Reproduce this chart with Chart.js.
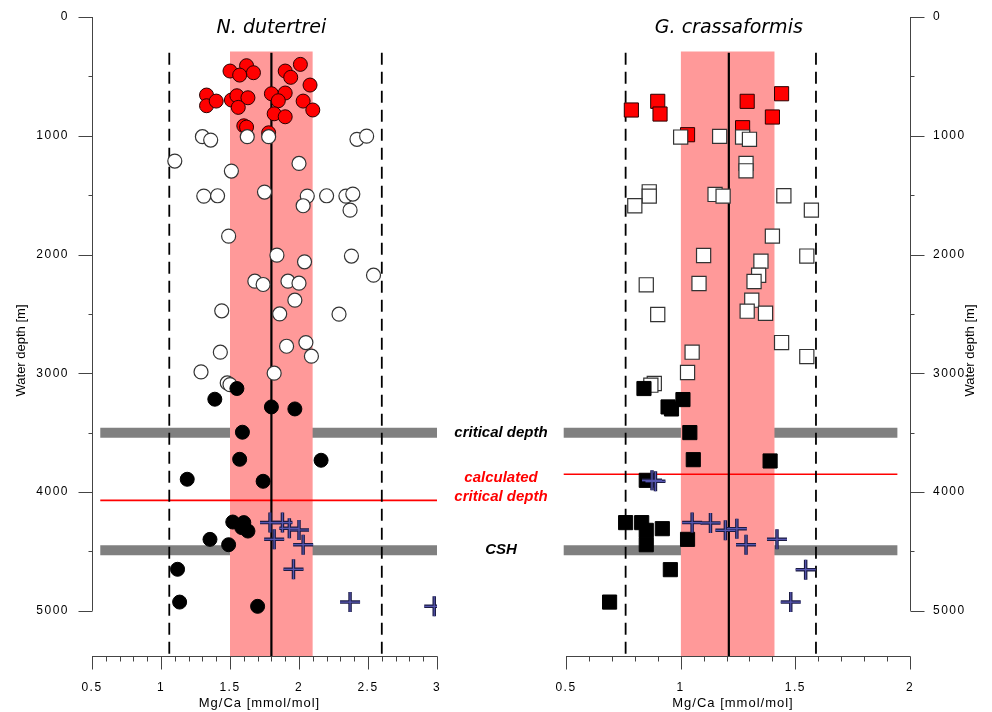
<!DOCTYPE html>
<html>
<head>
<meta charset="utf-8">
<title>Mg/Ca vs water depth</title>
<script src="https://cdn.jsdelivr.net/npm/chart.js@4.4.1/dist/chart.umd.min.js"></script>
<style>
  html, body { margin: 0; padding: 0; background: #fff; }
  #wrap { position: relative; width: 992px; height: 712px; overflow: hidden; }
  canvas { position: absolute; top: 0; }
  #dut { left: 0; }
  #cra { left: 540px; }
</style>
</head>
<body>
<div id="wrap">
  <canvas id="dut" width="560" height="712"></canvas>
  <canvas id="cra" width="452" height="712"></canvas>
</div>
<script>
// N. dutertrei - shallow (red), intermediate (white), deep (black) samples, crosses = core tops
const dutRedMgCa  = [1.50, 1.62, 1.57, 1.67, 1.90, 1.94, 2.01, 2.08, 1.33, 1.33, 1.40, 1.51, 1.55, 1.63, 1.56, 1.80, 1.90, 1.85, 2.03, 2.10, 1.82, 1.90, 1.60, 1.62, 1.78];
const dutRedDepth = [455, 410, 489, 469, 455, 508, 399, 573, 657, 747, 708, 699, 663, 680, 761, 646, 640, 705, 708, 783, 815, 840, 916, 927, 975];
const dutWhiteMgCa  = [1.30, 1.36, 1.625, 1.78, 2.42, 2.49, 1.10, 1.51, 2.00, 1.31, 1.41, 1.75, 2.06, 2.03, 2.20, 2.34, 2.39, 2.37, 1.49, 1.84, 2.04, 2.38, 2.54, 1.68, 1.74, 1.92, 2.00, 1.97, 1.44, 1.86, 2.29, 1.91, 2.05, 2.09, 1.43, 1.29, 1.82, 1.48, 1.50];
const dutWhiteDepth = [1008, 1036, 1008, 1008, 1030, 1003, 1213, 1297, 1233, 1508, 1505, 1474, 1508, 1589, 1505, 1508, 1491, 1626, 1845, 2005, 2061, 2013, 2174, 2224, 2252, 2224, 2241, 2384, 2474, 2500, 2502, 2772, 2741, 2856, 2822, 2988, 2999, 3081, 3095];
const dutBlackMgCa  = [1.55, 1.39, 1.80, 1.97, 1.59, 1.57, 2.16, 1.19, 1.74, 1.52, 1.60, 1.585, 1.63, 1.355, 1.49, 1.12, 1.135, 1.70];
const dutBlackDepth = [3128, 3218, 3283, 3300, 3496, 3724, 3732, 3892, 3909, 4252, 4257, 4299, 4328, 4398, 4443, 4650, 4926, 4962];
const dutCrossMgCa  = [1.79, 1.88, 1.93, 2.00, 1.82, 2.03, 1.96, 2.37, 2.98];
const dutCrossDepth = [4257, 4257, 4305, 4319, 4398, 4443, 4650, 4926, 4962];

// G. crassaformis
const craRedMgCa  = [0.785, 0.90, 0.91, 1.03, 1.29, 1.44, 1.40, 1.27];
const craRedDepth = [783, 710, 817, 991, 710, 646, 842, 932];
const craWhiteMgCa  = [1.00, 1.17, 1.27, 1.30, 1.285, 1.285, 0.863, 0.863, 0.80, 1.15, 1.185, 1.45, 1.57, 1.40, 1.10, 1.55, 1.35, 1.34, 1.32, 0.85, 1.08, 1.31, 1.29, 1.37, 0.90, 1.44, 1.55, 1.05, 1.03, 0.885, 0.87];
const craWhiteDepth = [1011, 1005, 1011, 1030, 1233, 1295, 1472, 1508, 1589, 1494, 1508, 1505, 1626, 1845, 2008, 2013, 2056, 2174, 2227, 2255, 2244, 2384, 2477, 2494, 2505, 2741, 2859, 2822, 2993, 3086, 3100];
const craBlackMgCa  = [0.84, 1.01, 0.945, 0.96, 1.04, 1.055, 1.39, 0.85, 0.76, 0.83, 0.85, 0.92, 1.03, 0.85, 0.955, 0.69];
const craBlackDepth = [3128, 3221, 3283, 3300, 3499, 3727, 3738, 3901, 4257, 4257, 4322, 4308, 4398, 4443, 4653, 4926];
const craCrossMgCa  = [0.875, 0.89, 1.05, 1.13, 1.195, 1.245, 1.285, 1.42, 1.545, 1.48];
const craCrossDepth = [3901, 3909, 4257, 4260, 4322, 4308, 4443, 4398, 4653, 4926];

// reference values: mean, mean +/- range (pink band) and outer limits (dashed)
const dutMean = 1.8;
const dutBand = [1.5, 2.1];
const dutLimits = [1.06, 2.6];
const craMean = 1.21;
const craBand = [1.0, 1.41];
const craLimits = [0.76, 1.59];

// depths [m]
const criticalDepth = 3500;
const cshDepth = 4490;
const dutCalcCritical = 4070;
const craCalcCritical = 3850;
const bandTopDepth = 290;
const lineTopDepth = 300;
const depthMax = 5380;
const dutLevelSpan = [0.56, 3.0];
const craLevelSpan = [0.49, 1.945];

// ticks and tick labels
const depthTicks = [0, 500, 1000, 1500, 2000, 2500, 3000, 3500, 4000, 4500, 5000];
const depthLabels = [0, 1000, 2000, 3000, 4000, 5000];
const dutMgLabels = [0.5, 1, 1.5, 2, 2.5, 3];
const craMgLabels = [0.5, 1, 1.5, 2];

const pts = (xs, ys) => xs.map((v, i) => ({ x: v, y: ys[i] }));

function lineSet(xs, ys, style) {
  return Object.assign({
    type: 'line', data: pts(xs, ys), pointRadius: 0, fill: false,
    tension: 0, borderCapStyle: 'butt'
  }, style);
}

function panelDatasets(p) {
  const crosses = pts(p.crossX, p.crossY);
  return [
    // markers (lowest order is drawn on top)
    { data: crosses, pointStyle: 'cross', pointRadius: 10, pointBorderColor: '#5656b0', pointBorderWidth: 1.2, order: 0 },
    { data: crosses, pointStyle: 'cross', pointRadius: 10, pointBorderColor: '#1c1c44', pointBorderWidth: 3.5, order: 1 },
    { data: pts(p.blackX, p.blackY), pointStyle: p.shape, pointRadius: p.r, pointBackgroundColor: '#000', pointBorderColor: '#000', pointBorderWidth: 1, order: 2 },
    { data: pts(p.whiteX, p.whiteY), pointStyle: p.shape, pointRadius: p.r, pointBackgroundColor: '#fff', pointBorderColor: '#333', pointBorderWidth: 1.2, order: 3 },
    { data: pts(p.redX, p.redY), pointStyle: p.shape, pointRadius: p.r, pointBackgroundColor: '#ff0000', pointBorderColor: '#2a0000', pointBorderWidth: 1, order: 4 },
    // mean and limits
    lineSet([p.mean, p.mean], [lineTopDepth, depthMax], { borderColor: '#000', borderWidth: 2.2, order: 5 }),
    lineSet([p.limits[0], p.limits[0]], [lineTopDepth, depthMax], { borderColor: '#000', borderWidth: 1.8, borderDash: [12, 7], order: 6 }),
    lineSet([p.limits[1], p.limits[1]], [lineTopDepth, depthMax], { borderColor: '#000', borderWidth: 1.8, borderDash: [12, 7], order: 6 }),
    // calculated critical depth
    lineSet(p.span, [p.calc, p.calc], { borderColor: '#ff0000', borderWidth: 1.6, order: 7, clip: false }),
    // pink band filled down to the bottom of the depth scale
    lineSet(p.band, [bandTopDepth, bandTopDepth], {
      borderColor: 'rgba(0,0,0,0)', borderWidth: 0, backgroundColor: '#ff9999',
      fill: { value: depthMax }, order: 8
    }),
    // critical depth and CSH levels
    lineSet(p.span, [criticalDepth, criticalDepth], { borderColor: '#808080', borderWidth: 10, order: 9, clip: false }),
    lineSet(p.span, [cshDepth, cshDepth], { borderColor: '#808080', borderWidth: 10, order: 9, clip: false })
  ];
}

const isLabel = (list, v) => list.some(l => Math.abs(l - v) < 1e-6);

// axis lines with long (labelled) and short (minor) ticks
function axisPlugin(p) {
  return {
    id: 'axisLines',
    beforeDraw(chart) {
      chart.ctx.letterSpacing = '1.5px';
    },
    beforeDatasetsDraw(chart) {
      const { ctx, chartArea: a, scales: { x, y } } = chart;
      const ax = Math.round(p.side === 'left' ? a.left : a.right) + 0.5;
      const dir = p.side === 'left' ? -1 : 1;
      const by = Math.round(a.bottom) + 0.5;
      ctx.save();
      ctx.strokeStyle = '#444';
      ctx.lineWidth = 1;
      ctx.beginPath();
      ctx.moveTo(ax, y.getPixelForValue(depthLabels[0]));
      ctx.lineTo(ax, y.getPixelForValue(depthLabels[depthLabels.length - 1]));
      y.ticks.forEach(t => {
        const py = Math.round(y.getPixelForValue(t.value)) + 0.5;
        ctx.moveTo(ax, py);
        ctx.lineTo(ax + dir * (isLabel(depthLabels, t.value) ? 14 : 4), py);
      });
      ctx.moveTo(a.left, by);
      ctx.lineTo(a.right + 0.5, by);
      x.ticks.forEach(t => {
        const px = Math.round(x.getPixelForValue(t.value)) + 0.5;
        ctx.moveTo(px, by);
        ctx.lineTo(px, by + (isLabel(p.mgLabels, t.value) ? 13 : 5));
      });
      ctx.stroke();
      ctx.restore();
    }
  };
}

// species name, axis titles and the level annotations between the panels
function textPlugin(p) {
  return {
    id: 'panelText',
    afterDraw(chart) {
      const { ctx, chartArea: a, scales: { x, y } } = chart;
      ctx.save();
      ctx.textAlign = 'center';
      ctx.textBaseline = 'middle';
      ctx.fillStyle = '#000';

      ctx.letterSpacing = '0px';
      ctx.font = 'italic 19px "DejaVu Sans"';
      ctx.fillText(p.title, x.getPixelForValue(p.mean), a.top + 11);

      ctx.letterSpacing = '1px';
      ctx.font = '13px "Liberation Sans"';
      ctx.fillText('Mg/Ca [mmol/mol]', (a.left + a.right) / 2 - 5, a.bottom + 47);

      ctx.letterSpacing = '0px';
      ctx.save();
      ctx.font = '13px "Liberation Sans Narrow", "Liberation Sans"';
      ctx.translate(p.side === 'left' ? a.left - 71 : a.right + 60, (a.top + a.bottom) / 2 + 14);
      ctx.rotate(-Math.PI / 2);
      ctx.fillText('Water depth [m]', 0, 0);
      ctx.restore();

      if (p.side === 'left') {
        const cx = a.right + 64;
        ctx.font = 'bold italic 15px "Liberation Sans"';
        ctx.fillText('critical depth', cx, y.getPixelForValue(criticalDepth));
        ctx.fillText('CSH', cx, y.getPixelForValue(cshDepth));
        ctx.fillStyle = '#ff0000';
        const cy = y.getPixelForValue((dutCalcCritical + craCalcCritical) / 2);
        ctx.fillText('calculated', cx, cy - 9.5);
        ctx.fillText('critical depth', cx, cy + 9.5);
      }
      ctx.restore();
    }
  };
}

function drawPanel(canvasId, p) {
  const tickFont = { family: 'Liberation Sans', size: 12 };
  return new Chart(document.getElementById(canvasId), {
    type: 'scatter',
    data: { datasets: panelDatasets(p) },
    options: {
      responsive: false,
      animation: false,
      events: [],
      layout: { padding: p.padding },
      plugins: { legend: { display: false }, tooltip: { enabled: false } },
      scales: {
        x: {
          type: 'linear', min: p.range[0], max: p.range[1],
          grid: { display: false, drawTicks: false }, border: { display: false },
          ticks: {
            stepSize: 0.1, autoSkip: false, maxRotation: 0, padding: 24,
            color: '#000', font: tickFont,
            callback: v => isLabel(p.mgLabels, v) ? String(v) : ''
          },
          afterFit: s => { s.height = 56; s.paddingLeft = 0; s.paddingRight = 0; }
        },
        y: {
          type: 'linear', position: p.side, reverse: true, min: 0, max: depthMax,
          grid: { display: false, drawTicks: false }, border: { display: false },
          ticks: {
            autoSkip: false, padding: 23,
            color: '#000', font: tickFont,
            callback: v => depthLabels.includes(v) ? String(v) : ''
          },
          afterBuildTicks: s => { s.ticks = depthTicks.map(v => ({ value: v })); },
          afterFit: s => { s.width = p.axisWidth; s.paddingTop = 0; s.paddingBottom = 0; }
        }
      }
    },
    plugins: [axisPlugin(p), textPlugin(p)]
  });
}

drawPanel('dut', {
  title: 'N. dutertrei', side: 'left', shape: 'circle', r: 7,
  redX: dutRedMgCa, redY: dutRedDepth, whiteX: dutWhiteMgCa, whiteY: dutWhiteDepth,
  blackX: dutBlackMgCa, blackY: dutBlackDepth, crossX: dutCrossMgCa, crossY: dutCrossDepth,
  mean: dutMean, band: dutBand, limits: dutLimits, calc: dutCalcCritical, span: dutLevelSpan,
  range: [0.5, 3], mgLabels: dutMgLabels,
  padding: { top: 17, right: 123, left: 0, bottom: 0 }, axisWidth: 92
});

drawPanel('cra', {
  title: 'G. crassaformis', side: 'right', shape: 'rect', r: 10,
  redX: craRedMgCa, redY: craRedDepth, whiteX: craWhiteMgCa, whiteY: craWhiteDepth,
  blackX: craBlackMgCa, blackY: craBlackDepth, crossX: craCrossMgCa, crossY: craCrossDepth,
  mean: craMean, band: craBand, limits: craLimits, calc: craCalcCritical, span: craLevelSpan,
  range: [0.5, 2], mgLabels: craMgLabels,
  padding: { top: 17, right: 0, left: 26, bottom: 0 }, axisWidth: 82
});
</script>
</body>
</html>
